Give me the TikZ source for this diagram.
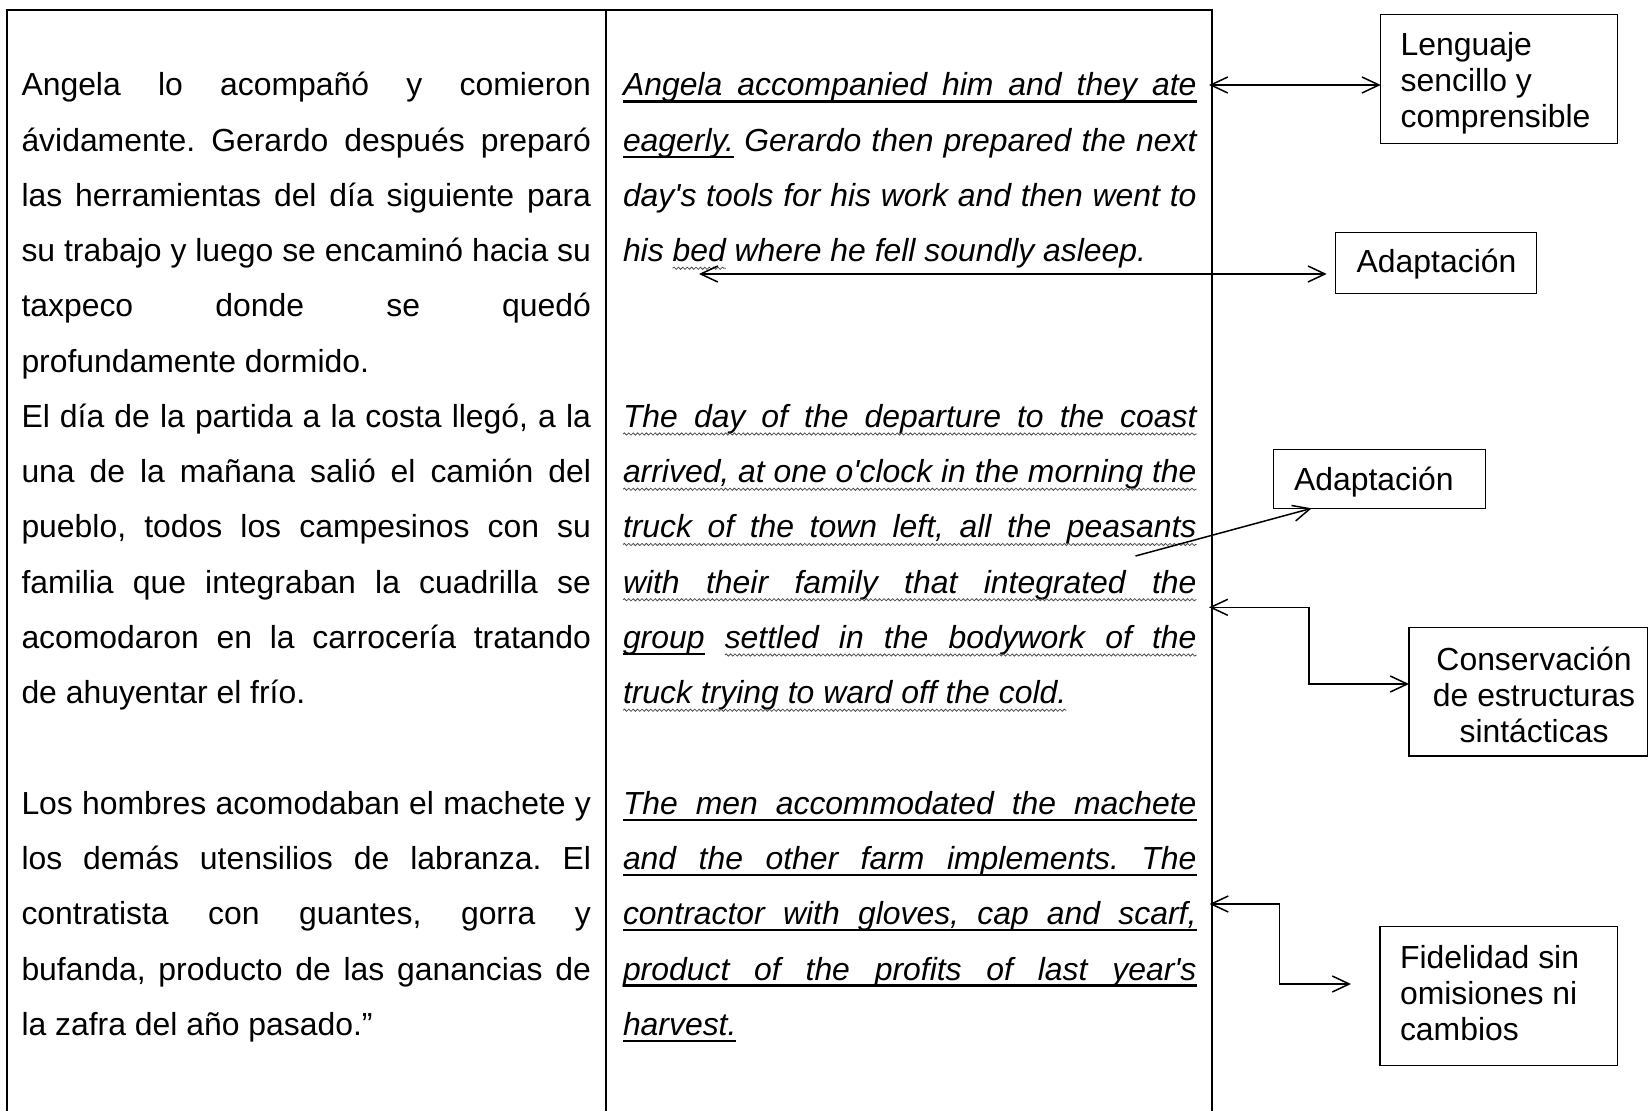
\documentclass[tikz,border=0pt]{standalone}
\usepackage{fontspec}
\newfontfamily\arial{Liberation Sans}
\usetikzlibrary{arrows.meta,decorations.pathmorphing}
\newlength\lw \setlength\lw{284.75pt}
\newlength\rw \setlength\rw{286.75pt}
\newlength\wE \newlength\wG \newlength\wS \newlength\wL \newlength\wH \newlength\wBd
\newcommand\tfont{\arial\fontsize{15.95pt}{18pt}\selectfont\frenchspacing}
\newcommand\rfont{\arial\itshape\fontsize{15.95pt}{18pt}\selectfont\frenchspacing}
\newcommand\JL[1]{\makebox[\lw][s]{#1}}
\newcommand\JR[1]{\makebox[\rw][s]{#1}}
\tikzset{
  ltxt/.style={anchor=base west, inner sep=0pt, outer sep=0pt, font=\tfont},
  rtxt/.style={anchor=base west, inner sep=0pt, outer sep=0pt, font=\rfont},
  tbl/.style={line width=1.1pt},
  lblbox/.style={draw, line width=0.6pt, inner sep=0pt, outer sep=0pt, anchor=north west},
  lbltxt/.style={anchor=base west, inner sep=0pt, outer sep=0pt, font=\tfont},
  ulsolid/.style={line width=1.1pt},
  wavy/.style={decorate, decoration={snake, amplitude=0.55pt, segment length=2.2pt}, line width=0.4pt, black!70},
  conn/.style={line width=0.75pt},
}
\begin{document}
\settowidth\wE{\rfont eagerly.}%
\settowidth\wG{\rfont group}%
\settowidth\wS{\rfont\ }%
\settowidth\wL{\rfont group settled in the bodywork of the}%
\settowidth\wH{\rfont his\ }%
\settowidth\wBd{\rfont bed}%
\begin{tikzpicture}[x=0.5pt, y=-0.5pt, >={Straight Barb[length=8.5pt,width=8pt]}]
\useasboundingbox (0,0) rectangle (1649,1111);
% table
\draw[tbl] (6.7,1111) -- (6.7,10) -- (1211.7,10) -- (1211.7,1111);
\draw[tbl] (606,10) -- (606,1111);
% left column
\node[ltxt] (l0) at (21.5,96) {\JL{Angela lo acompañó y comieron}};
\node[ltxt] (l1) at (21.5,151.25) {\JL{ávidamente. Gerardo después preparó}};
\node[ltxt] (l2) at (21.5,206.5) {\JL{las herramientas del día siguiente para}};
\node[ltxt] (l3) at (21.5,261.75) {\JL{su trabajo y luego se encaminó hacia su}};
\node[ltxt] (l4) at (21.5,317) {\JL{taxpeco donde se quedó}};
\node[ltxt] (l5) at (21.5,372.25) {profundamente dormido.};
\node[ltxt] (l6) at (21.5,427.5) {\JL{El día de la partida a la costa llegó, a la}};
\node[ltxt] (l7) at (21.5,482.75) {\JL{una de la mañana salió el camión del}};
\node[ltxt] (l8) at (21.5,538) {\JL{pueblo, todos los campesinos con su}};
\node[ltxt] (l9) at (21.5,593.25) {\JL{familia que integraban la cuadrilla se}};
\node[ltxt] (l10) at (21.5,648.5) {\JL{acomodaron en la carrocería tratando}};
\node[ltxt] (l11) at (21.5,703.75) {de ahuyentar el frío.};
\node[ltxt] (l13) at (21.5,814.25) {\JL{Los hombres acomodaban el machete y}};
\node[ltxt] (l14) at (21.5,869.5) {\JL{los demás utensilios de labranza. El}};
\node[ltxt] (l15) at (21.5,924.75) {\JL{contratista con guantes, gorra y}};
\node[ltxt] (l16) at (21.5,980) {\JL{bufanda, producto de las ganancias de}};
\node[ltxt] (l17) at (21.5,1035.25) {la zafra del año pasado.”};
% right column
\node[rtxt] (r0) at (623,96) {\JR{Angela accompanied him and they ate}};
\node[rtxt] (r1) at (623,151.25) {\JR{eagerly. Gerardo then prepared the next}};
\node[rtxt] (r2) at (623,206.5) {\JR{day's tools for his work and then went to}};
\node[rtxt] (r3) at (623,261.75) {his bed where he fell soundly asleep.};
\node[rtxt] (r6) at (623,427.5) {\JR{The day of the departure to the coast}};
\node[rtxt] (r7) at (623,482.75) {\JR{arrived, at one o'clock in the morning the}};
\node[rtxt] (r8) at (623,538) {\JR{truck of the town left, all the peasants}};
\node[rtxt] (r9) at (623,593.25) {\JR{with their family that integrated the}};
\node[rtxt] (r10) at (623,648.5) {\JR{group settled in the bodywork of the}};
\node[rtxt] (r11) at (623,703.75) {truck trying to ward off the cold.};
\node[rtxt] (r13) at (623,814.25) {\JR{The men accommodated the machete}};
\node[rtxt] (r14) at (623,869.5) {\JR{and the other farm implements. The}};
\node[rtxt] (r15) at (623,924.75) {\JR{contractor with gloves, cap and scarf,}};
\node[rtxt] (r16) at (623,980) {\JR{product of the profits of last year's}};
\node[rtxt] (r17) at (623,1035.25) {harvest.};
% solid underlines
\foreach \n in {0,13,14,15,16,17}
  \draw[ulsolid] ([yshift=-2.75pt]r\n.base west) -- ([yshift=-2.75pt]r\n.base east);
\draw[ulsolid] ([yshift=-2.75pt]r1.base west) -- ++(\wE,0pt);
\draw[ulsolid] ([yshift=-2.75pt]r10.base west) -- ++(\wG,0pt);
% wavy underlines
\foreach \n in {6,7,8,9,11}
  \draw[wavy] ([yshift=-3.25pt]r\n.base west) -- ([yshift=-3.25pt]r\n.base east);
\pgfmathsetlengthmacro\sx{\wG+\wS+(\rw-\wL)/6}
\draw[wavy] ([xshift=\sx,yshift=-3.25pt]r10.base west) -- ([yshift=-3.25pt]r10.base east);
\draw[wavy] ([xshift=\wH,yshift=-3.25pt]r3.base west) -- ++(\wBd,0pt);
% label boxes
\node[lblbox, minimum width=118.5pt, minimum height=64.5pt] (leng) at (1380.7,14.3) {};
\node[lbltxt] (lengt) at (1400.7,55.8) {\begin{tabular}[t]{@{}l@{}}Lenguaje\\ sencillo y\\ comprensible\end{tabular}};
\node[lblbox, minimum width=100.5pt, minimum height=30.5pt] (ada1) at (1335.7,232.3) {};
\node[lbltxt] (ada1t) at (1356.7,272.5) {Adaptación};
\node[lblbox, minimum width=106pt, minimum height=29.5pt] (ada2) at (1273.3,449.3) {};
\node[lbltxt] (ada2t) at (1294,490.5) {Adaptación};
\node[lblbox, minimum width=119.2pt, minimum height=64.15pt] (cons) at (1409,627.7) {};
\node[lbltxt, anchor=base] (const) at (1534,670.3) {\begin{tabular}[t]{@{}c@{}}Conservación\\ de estructuras\\ sintácticas\end{tabular}};
\node[lblbox, minimum width=118.65pt, minimum height=69.5pt] (fid) at (1380,926.7) {};
\node[lbltxt] (fidt) at (1400,968.3) {\begin{tabular}[t]{@{}l@{}}Fidelidad sin\\ omisiones ni\\ cambios\end{tabular}};
% connectors
\coordinate (a1) at (1209,85);
\draw[conn,<->] (a1) -- (a1 -| leng.west);
\coordinate (a2) at (699,274);
\draw[conn,<->,shorten >=4.5pt] (a2) -- (a2 -| ada1.west);
\coordinate (a3) at (1135.5,556);
\draw[conn,->] (a3) -- ([xshift=19.2pt]ada2.south west);
\coordinate (a4) at (1209,607.3);
\draw[conn,<->] (a4) -- ++(100,0) |- ([yshift=3.925pt]cons.west);
\coordinate (a5) at (1209.5,904);
\draw[conn,<->,shorten >=14.5pt] (a5) -- ++(69.8,0) |- ([yshift=6.1pt]fid.west);
\end{tikzpicture}
\end{document}
